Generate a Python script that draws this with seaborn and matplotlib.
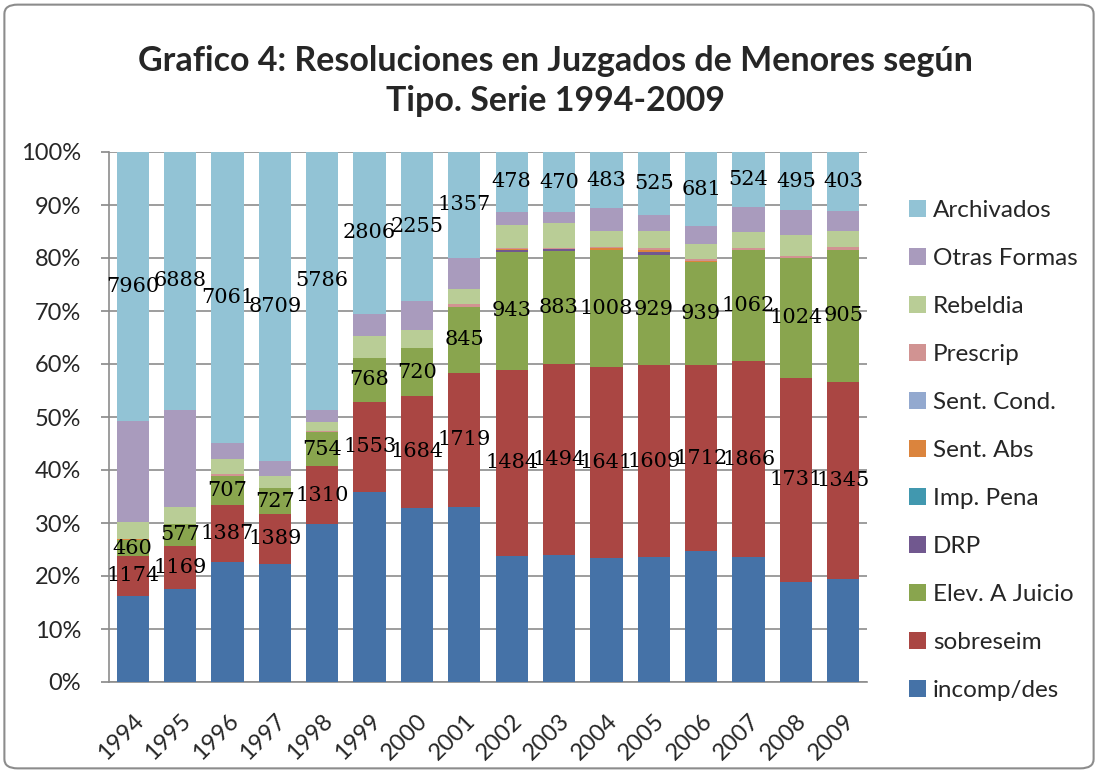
import pandas as pd
import seaborn as sns
import matplotlib.pyplot as plt
from matplotlib.ticker import PercentFormatter
from matplotlib.patches import FancyBboxPatch

# counts per tipo (small series estimated)
years = list(range(1994, 2010))
incomp = [2560, 2480, 2907, 3337, 3536, 3303, 2632, 2246, 1005, 988, 1071, 1050, 1197, 1190, 851, 703]
sobreseim = [1174, 1169, 1387, 1389, 1310, 1553, 1684, 1719, 1484, 1494, 1641, 1609, 1712, 1866, 1731, 1345]
elev = [460, 577, 707, 727, 754, 768, 720, 845, 943, 883, 1008, 929, 939, 1062, 1024, 905]
drp = [0, 0, 0, 0, 0, 0, 0, 0, 12, 12, 0, 22, 0, 0, 0, 0]
imp_pena = [0] * 16
sent_abs = [47, 0, 0, 0, 0, 0, 0, 0, 8, 0, 16, 13, 15, 0, 0, 0]
sent_cond = [0] * 16
prescrip = [0, 0, 39, 0, 24, 0, 0, 34, 8, 8, 9, 18, 15, 15, 14, 18]
rebeldia = [487, 468, 373, 359, 214, 386, 272, 197, 186, 196, 132, 142, 141, 153, 176, 110]
otras = [3000, 2594, 399, 404, 262, 377, 432, 394, 102, 87, 200, 142, 160, 239, 212, 136]
archivados = [7960, 6888, 7061, 8709, 5786, 2806, 2255, 1357, 478, 470, 483, 525, 681, 524, 495, 403]

tipos = ["Archivados", "Otras Formas", "Rebeldia", "Prescrip", "Sent. Cond.", "Sent. Abs",
         "Imp. Pena", "DRP", "Elev. A Juicio", "sobreseim", "incomp/des"]
series = [archivados, otras, rebeldia, prescrip, sent_cond, sent_abs,
          imp_pena, drp, elev, sobreseim, incomp]
colores = ["#92C3D5", "#A99BBD", "#B9CD96", "#D19392", "#93A9CF", "#DB843D",
           "#4198AF", "#71588F", "#89A54E", "#AA4643", "#4572A7"]

rows = []
for tipo, vals in zip(tipos, series):
    for y, v in zip(years, vals):
        rows.append({"year": y, "tipo": tipo, "n": v})
df = pd.DataFrame(rows)

sns.set_theme(style="white")
plt.rcParams['font.family'] = ['Lato', 'DejaVu Sans']

fig = plt.figure(figsize=(10.98, 7.73), dpi=100)
ax = fig.add_axes([109 / 1098, 1 - 682 / 773, 758 / 1098, 530 / 773])

sns.histplot(data=df, x="year", weights="n", hue="tipo", hue_order=tipos,
             palette=colores, multiple="fill", discrete=True, shrink=0.68,
             alpha=1, linewidth=0, ax=ax, zorder=3)

ax.set_xlim(1993.5, 2009.5)
ax.set_ylim(0, 1)
ax.set_yticks([i / 10 for i in range(11)])
ax.yaxis.set_major_formatter(PercentFormatter(1.0, decimals=0))
ax.yaxis.grid(True, color="#8c8c8c", linewidth=1.2, zorder=0)
ax.set_axisbelow(True)
ax.set_xlabel("")
ax.set_ylabel("")
ax.set_xticks(years)
ax.set_xticklabels([str(y) for y in years], rotation=45, ha="right",
                   rotation_mode="anchor", fontsize=17)
ax.tick_params(axis="y", left=True, length=6, color="#8c8c8c", labelsize=17, pad=14)
ax.tick_params(axis="x", bottom=False, pad=14)
for s in ["top", "right"]:
    ax.spines[s].set_visible(False)
for s in ["left", "bottom"]:
    ax.spines[s].set_color("#8c8c8c")
    ax.spines[s].set_linewidth(1.2)

# data labels on three series, centred in each segment
totals = [sum(v[i] for v in series) for i in range(len(years))]
labelled = {"sobreseim", "Elev. A Juicio", "Archivados"}
bottoms = [0] * len(years)
for tipo, vals in zip(tipos[::-1], series[::-1]):
    if tipo in labelled:
        for i, y in enumerate(years):
            ymid = (bottoms[i] + vals[i] / 2) / totals[i]
            ax.text(y, ymid, str(vals[i]), ha="center", va="center",
                    fontsize=15, family="DejaVu Serif", color="black", zorder=5)
    bottoms = [b + v for b, v in zip(bottoms, vals)]

sns.move_legend(ax, "upper left", bbox_to_anchor=(1.055, 0.91), frameon=False,
                title=None, fontsize=17.5, labelspacing=1.11, handlelength=0.7,
                handleheight=0.7, handletextpad=0.3, borderaxespad=0, borderpad=0)

fig.text(0.506, 0.895, "Grafico 4: Resoluciones en Juzgados de Menores según\nTipo. Serie 1994-2009",
         ha="center", va="center", fontsize=24.5, fontweight="bold", linespacing=1.3)

border = FancyBboxPatch((0.004, 0.006), 0.992, 0.988, boxstyle="round,pad=0,rounding_size=0.012",
                        transform=fig.transFigure, fill=False, edgecolor="#8c8c8c", linewidth=1.5)
fig.patches.append(border)

fig.savefig("out.png", dpi=100)
